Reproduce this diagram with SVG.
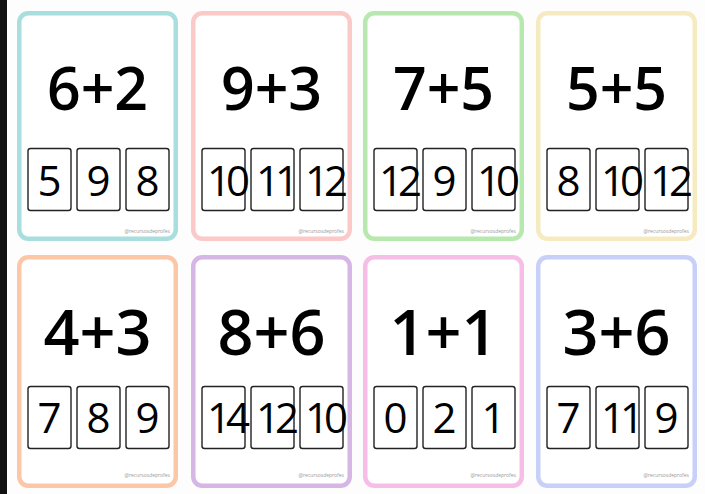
<svg xmlns="http://www.w3.org/2000/svg" width="705" height="494" viewBox="0 0 705 494">
<style>
.card{fill:#ffffff;stroke-width:4.5}
.box{fill:#ffffff;stroke:#222;stroke-width:1.4}
.eq{font-family:"Open Sans","Liberation Sans",sans-serif;font-weight:600;font-size:59px;fill:#000;text-anchor:middle}
.eqb{font-size:63px}
.num{font-family:"Open Sans","Liberation Sans",sans-serif;font-weight:500;font-size:42px;fill:#000;text-anchor:middle}
.n2{letter-spacing:-5px}
.wm{font-family:"Open Sans","Liberation Sans",sans-serif;font-size:5px;fill:#999;text-anchor:end}
</style>
<rect x="0" y="0" width="705" height="494" fill="#fdfdfd"/>
<rect x="0" y="0" width="7" height="494" fill="#111"/>

<g id="card1">
<rect class="card" x="19.25" y="13.25" width="156.5" height="225.5" rx="9" stroke="#a9dede"/>
<text class="eq" x="97.5" y="110">6+2</text>
<rect class="box" x="28" y="148.5" width="43" height="62" rx="2.5"/>
<rect class="box" x="77" y="148.5" width="43" height="62" rx="2.5"/>
<rect class="box" x="126" y="148.5" width="43" height="62" rx="2.5"/>
<text class="num" x="49.5" y="195.5">5</text>
<text class="num" x="98.5" y="195.5">9</text>
<text class="num" x="147.5" y="195.5">8</text>
<text class="wm" x="170" y="233">@recursosdeprofes</text>
</g>

<g id="card2">
<rect class="card" x="193.25" y="13.25" width="156.5" height="225.5" rx="9" stroke="#fcc9c9"/>
<text class="eq" x="271.5" y="110">9+3</text>
<rect class="box" x="202" y="148.5" width="43" height="62" rx="2.5"/>
<rect class="box" x="251" y="148.5" width="43" height="62" rx="2.5"/>
<rect class="box" x="300" y="148.5" width="43" height="62" rx="2.5"/>
<text class="num n2" x="226" y="195.5">10</text>
<text class="num n2" x="275" y="195.5">11</text>
<text class="num n2" x="324" y="195.5">12</text>
<text class="wm" x="344" y="233">@recursosdeprofes</text>
</g>

<g id="card3">
<rect class="card" x="365.25" y="13.25" width="156.5" height="225.5" rx="9" stroke="#b7e8ad"/>
<text class="eq" x="443.5" y="110">7+5</text>
<rect class="box" x="374" y="148.5" width="43" height="62" rx="2.5"/>
<rect class="box" x="423" y="148.5" width="43" height="62" rx="2.5"/>
<rect class="box" x="472" y="148.5" width="43" height="62" rx="2.5"/>
<text class="num n2" x="398" y="195.5">12</text>
<text class="num" x="444.5" y="195.5">9</text>
<text class="num n2" x="496" y="195.5">10</text>
<text class="wm" x="516" y="233">@recursosdeprofes</text>
</g>

<g id="card4">
<rect class="card" x="538.25" y="13.25" width="156.5" height="225.5" rx="9" stroke="#f6ebc0"/>
<text class="eq" x="616.5" y="110">5+5</text>
<rect class="box" x="547" y="148.5" width="43" height="62" rx="2.5"/>
<rect class="box" x="596" y="148.5" width="43" height="62" rx="2.5"/>
<rect class="box" x="645" y="148.5" width="43" height="62" rx="2.5"/>
<text class="num" x="568.5" y="195.5">8</text>
<text class="num n2" x="620" y="195.5">10</text>
<text class="num n2" x="669" y="195.5">12</text>
<text class="wm" x="689" y="233">@recursosdeprofes</text>
</g>

<g id="card5">
<rect class="card" x="19.25" y="257.25" width="156.5" height="228.5" rx="9" stroke="#fbc7a6"/>
<text class="eq eqb" x="97.5" y="355">4+3</text>
<rect class="box" x="28" y="386.5" width="43" height="62" rx="2.5"/>
<rect class="box" x="77" y="386.5" width="43" height="62" rx="2.5"/>
<rect class="box" x="126" y="386.5" width="43" height="62" rx="2.5"/>
<text class="num" x="49.5" y="433">7</text>
<text class="num" x="98.5" y="433">8</text>
<text class="num" x="147.5" y="433">9</text>
<text class="wm" x="170" y="477">@recursosdeprofes</text>
</g>

<g id="card6">
<rect class="card" x="193.25" y="257.25" width="156.5" height="228.5" rx="9" stroke="#d6b6e4"/>
<text class="eq eqb" x="271.5" y="355">8+6</text>
<rect class="box" x="202" y="386.5" width="43" height="62" rx="2.5"/>
<rect class="box" x="251" y="386.5" width="43" height="62" rx="2.5"/>
<rect class="box" x="300" y="386.5" width="43" height="62" rx="2.5"/>
<text class="num n2" x="226" y="433">14</text>
<text class="num n2" x="275" y="433">12</text>
<text class="num n2" x="324" y="433">10</text>
<text class="wm" x="344" y="477">@recursosdeprofes</text>
</g>

<g id="card7">
<rect class="card" x="365.25" y="257.25" width="156.5" height="228.5" rx="9" stroke="#f6bde6"/>
<text class="eq eqb" x="443.5" y="355">1+1</text>
<rect class="box" x="374" y="386.5" width="43" height="62" rx="2.5"/>
<rect class="box" x="423" y="386.5" width="43" height="62" rx="2.5"/>
<rect class="box" x="472" y="386.5" width="43" height="62" rx="2.5"/>
<text class="num" x="395.5" y="433">0</text>
<text class="num" x="444.5" y="433">2</text>
<text class="num" x="493.5" y="433">1</text>
<text class="wm" x="516" y="477">@recursosdeprofes</text>
</g>

<g id="card8">
<rect class="card" x="538.25" y="257.25" width="156.5" height="228.5" rx="9" stroke="#c8d0fa"/>
<text class="eq eqb" x="616.5" y="355">3+6</text>
<rect class="box" x="547" y="386.5" width="43" height="62" rx="2.5"/>
<rect class="box" x="596" y="386.5" width="43" height="62" rx="2.5"/>
<rect class="box" x="645" y="386.5" width="43" height="62" rx="2.5"/>
<text class="num" x="568.5" y="433">7</text>
<text class="num n2" x="620" y="433">11</text>
<text class="num" x="666.5" y="433">9</text>
<text class="wm" x="689" y="477">@recursosdeprofes</text>
</g>

<g id="connectors"></g>
</svg>
